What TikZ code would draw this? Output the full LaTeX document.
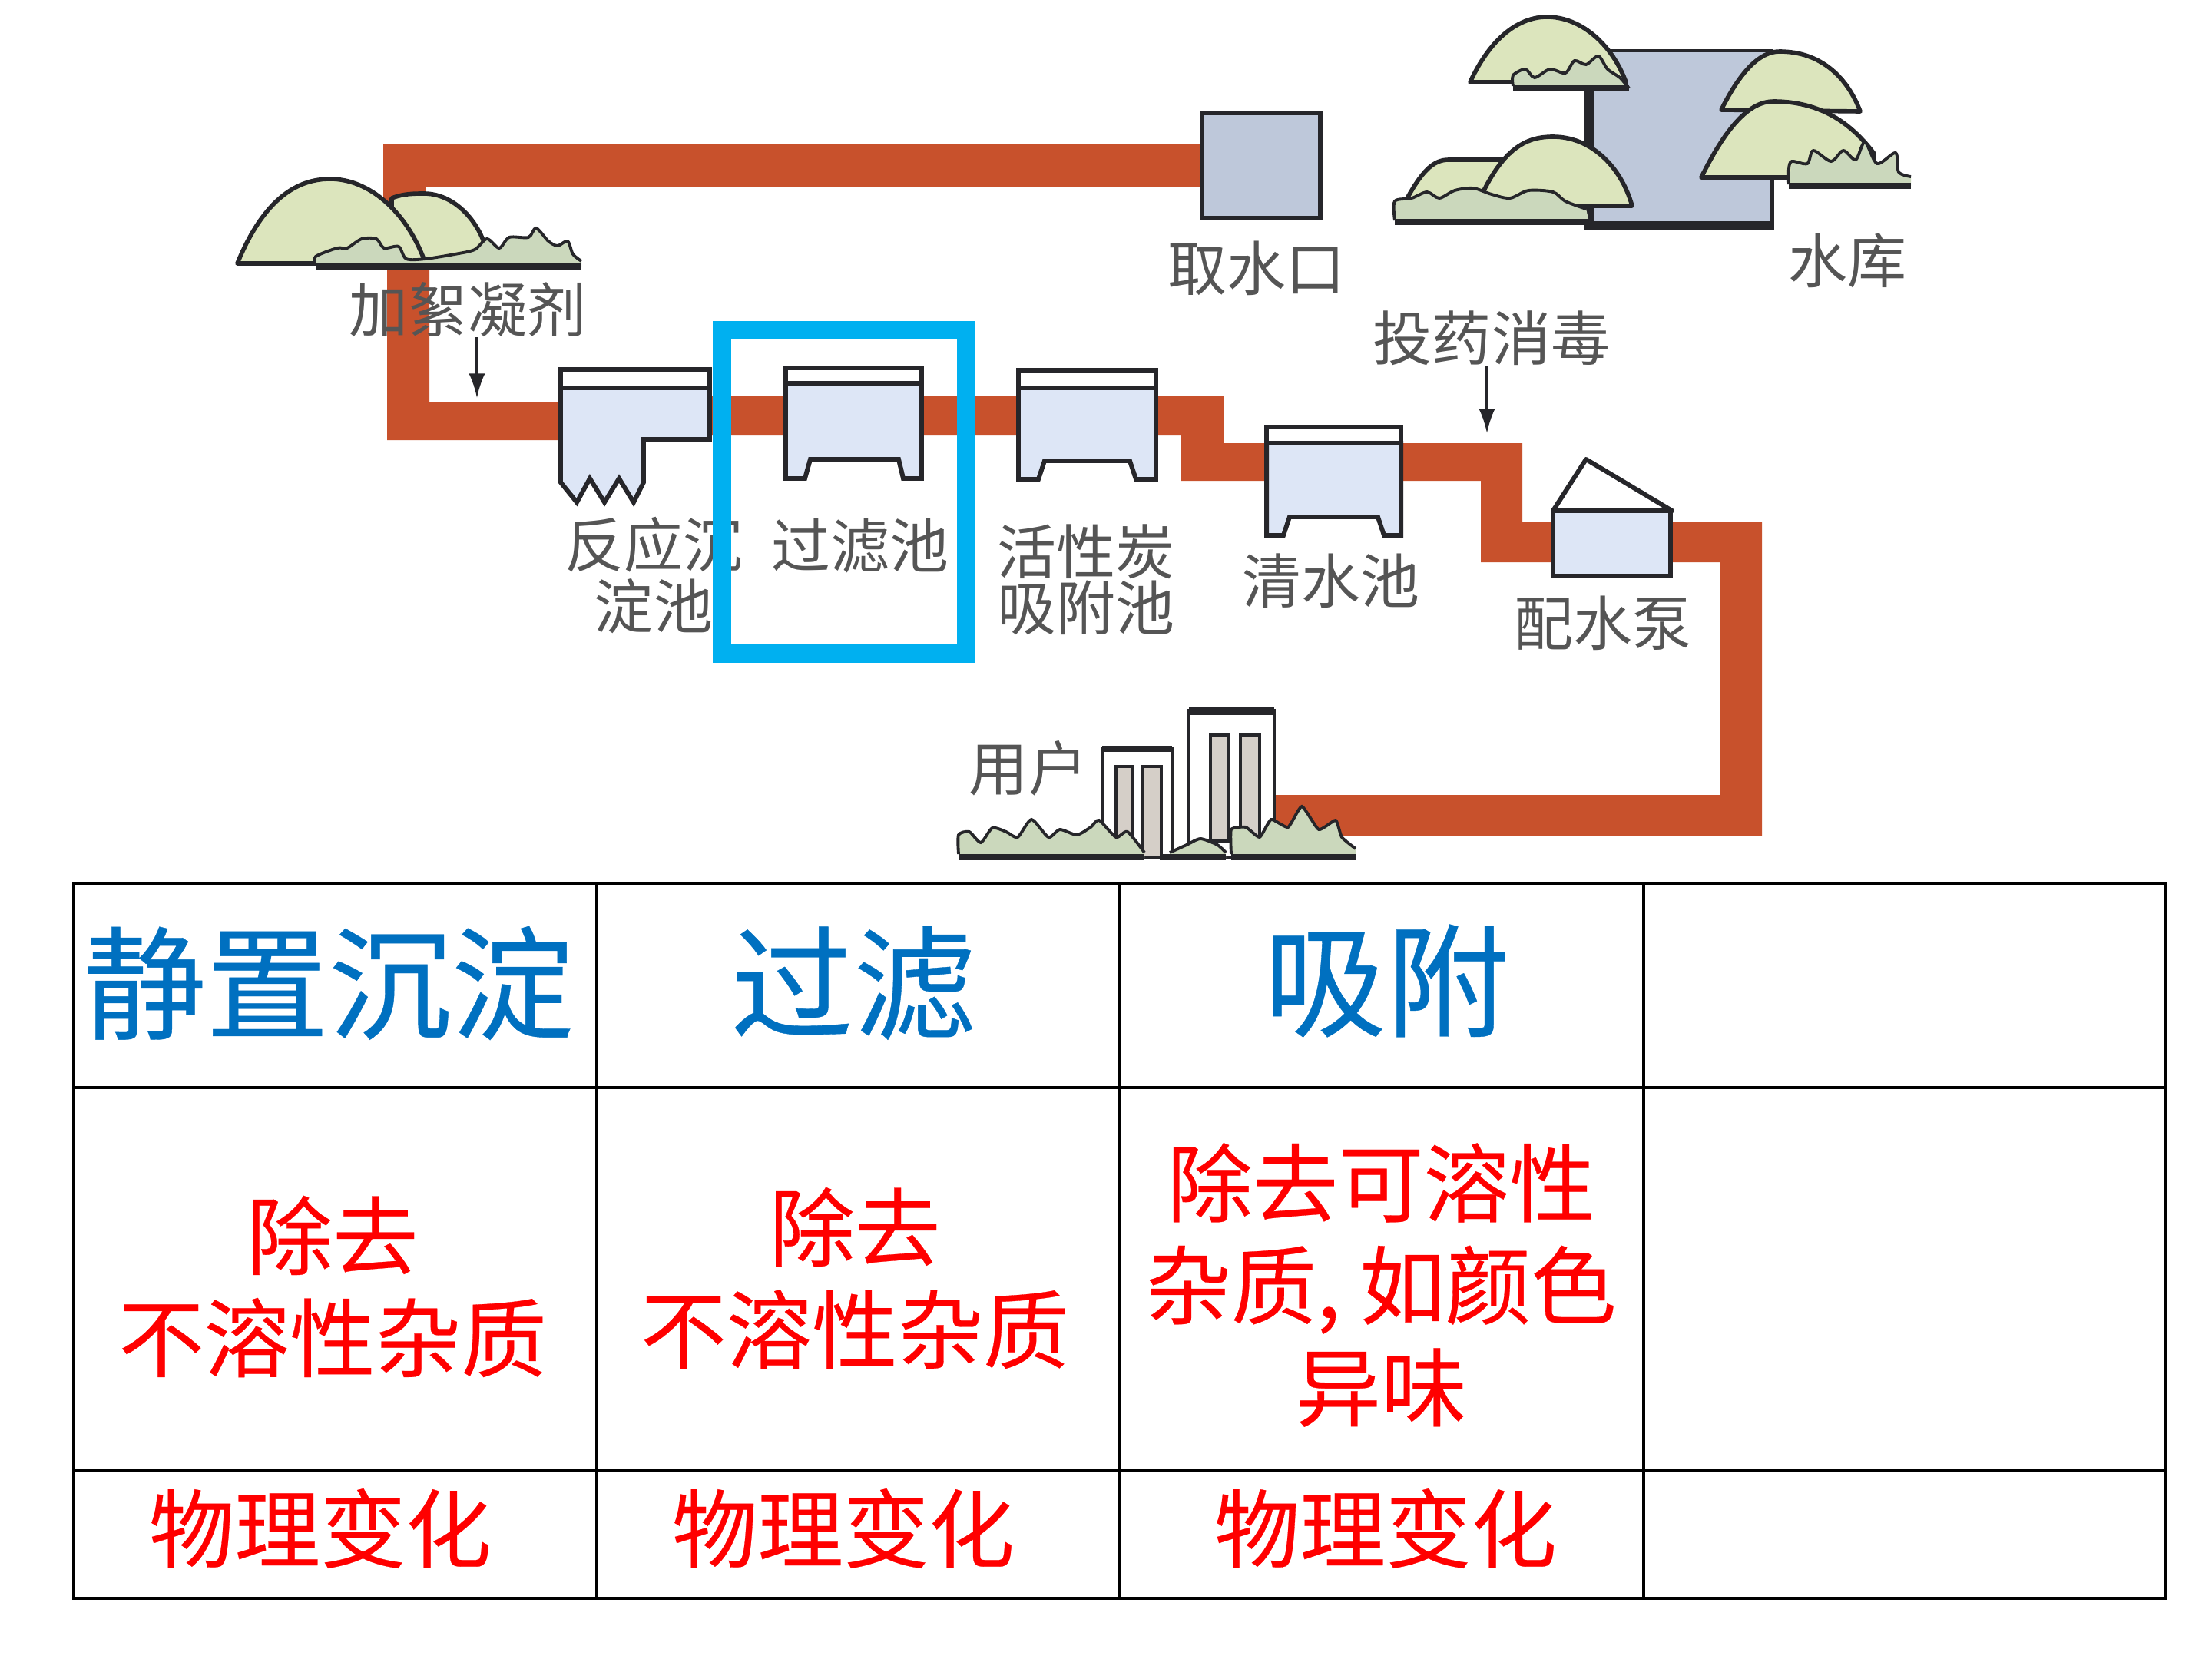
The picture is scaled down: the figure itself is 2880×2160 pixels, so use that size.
\documentclass[tikz,border=0pt]{standalone}
\usepackage{fontspec}
\setmainfont{Noto Sans CJK SC}
\newfontfamily\tablefont[FakeBold=0.25]{Noto Sans CJK SC}
\definecolor{pipecol}{HTML}{C8512C}
\definecolor{tankcol}{HTML}{DDE6F6}
\definecolor{stonecol}{HTML}{BEC8DA}
\definecolor{hillcol}{HTML}{DCE5BD}
\definecolor{bushcol}{HTML}{CBD8BC}
\definecolor{inkcol}{HTML}{26262A}
\definecolor{captioncol}{HTML}{555555}
\definecolor{headcol}{HTML}{0070C0}
\definecolor{framecol}{HTML}{00B0F0}
\definecolor{wingcol}{HTML}{D5CFC8}
\tikzset{
  pipe/.style={fill=pipecol,draw=none},
  tank/.style={fill=tankcol,draw=inkcol,line width=1.7pt,line join=miter},
  lid/.style={fill=white,draw=inkcol,line width=1.7pt},
  stone/.style={fill=stonecol,draw=inkcol,line width=1.6pt},
  hill/.style={fill=hillcol,draw=inkcol,line width=1.6pt,line join=round},
  bush/.style={fill=bushcol,draw=none},
  bushtop/.style={draw=inkcol,line width=1.1pt},
  ground/.style={draw=inkcol,line width=2.2pt},
  caption/.style={text=captioncol,inner sep=0pt,align=center,font=\fontsize{21.9}{22.5}\selectfont},
  dose/.style={draw=inkcol,line width=.9pt,-{Latex[length=9pt,width=6pt]}},
  cell/.style={draw=black,line width=1.1pt},
  headtext/.style={text=headcol,inner sep=0pt,font=\tablefont\fontsize{45.4}{50}\selectfont},
  redtext/.style={text=red,inner sep=0pt,align=center,font=\tablefont\fontsize{31.7}{37.8}\selectfont},
  tower/.style={fill=white,draw=inkcol,line width=1.2pt},
  wing/.style={fill=wingcol,draw=inkcol,line width=1.4pt},
}
\usetikzlibrary{arrows.meta}
\begin{document}
\begin{tikzpicture}[x=0.01cm,y=-0.01cm]
\useasboundingbox (0,0) rectangle (2880,2160);
\fill[white] (0,0) rectangle (2880,2160);

% water main, from the intake round to the consumers
\fill[pipe] (499,188) -- (1563,188) -- (1563,243) -- (554,243) -- (554,345) -- (559,345)
  -- (559,523) -- (800,523) -- (800,515) -- (1593,515) -- (1593,577) -- (1982,577)
  -- (1982,679) -- (2294,679) -- (2294,1088) -- (1659,1088) -- (1659,1035) -- (2240,1035)
  -- (2240,732) -- (1928,732) -- (1928,626) -- (1537,626) -- (1537,567) -- (900,567)
  -- (900,573) -- (504,573) -- (504,345) -- (499,345) -- cycle;

% intake
\draw[stone] (1565,147) rectangle (1719,284);

% reservoir
\fill[stonecol] (2072,65) rectangle (2308,297);
\draw[inkcol,line width=1.1pt] (2072,66) -- (2308,66);
\draw[inkcol,line width=1.8pt] (2307,66) -- (2307,297);
\draw[inkcol,line width=4pt] (2069,62) -- (2069,300);
\draw[inkcol,line width=3.6pt] (2065,294) -- (2310,294);

% hills around the reservoir
\draw[hill] (2241,143) .. controls (2265,95) and (2290,67) .. (2317,67) .. controls (2370,67) and (2405,100) .. (2422,145) -- cycle;
\draw[hill] (2215,231) .. controls (2250,160) and (2280,132) .. (2309,132) .. controls (2370,132) and (2410,160) .. (2440,200) -- (2440,231) -- cycle;
\fill[bush] (2329,242) -- (2333,210) -- plot[smooth,tension=.5] coordinates {(2333,210) (2353,213) (2361,196) (2384,210) (2400,196) (2416,208) (2428,185) (2444,213) (2468,199) (2472,224) (2488,230)} -- (2488,242) -- cycle;
\draw[bushtop] plot[smooth,tension=.5] coordinates {(2329,240) (2329,220) (2333,210) (2353,213) (2361,196) (2384,210) (2400,196) (2416,208) (2428,185) (2444,213) (2468,199) (2472,224) (2488,230)};
\draw[ground] (2329,242) -- (2488,242);

\draw[hill] (1914,107) .. controls (1945,40) and (1985,22) .. (2014,22) .. controls (2060,22) and (2100,60) .. (2117,107) -- cycle;
\fill[bush] (1970,115) -- plot[smooth,tension=.5] coordinates {(1970,98) (1986,90) (1998,101) (2018,90) (2038,95) (2050,79) (2065,84) (2081,73) (2093,90) (2109,101) (2121,115)} -- cycle;
\draw[bushtop] plot[smooth,tension=.5] coordinates {(1970,112) (1970,98) (1986,90) (1998,101) (2018,90) (2038,95) (2050,79) (2065,84) (2081,73) (2093,90) (2109,101) (2121,115)};
\draw[ground] (1970,115) -- (2121,115);

\draw[hill] (1830,262) .. controls (1850,225) and (1865,208) .. (1886,208) -- (1958,208) -- (1958,262) -- cycle;
\draw[hill] (1930,268) -- (1930,252) .. controls (1960,190) and (1990,178) .. (2022,178) .. controls (2070,178) and (2110,215) .. (2125,268) -- cycle;
\fill[bush] (1816,289) -- (1816,262) -- plot[smooth,tension=.5] coordinates {(1816,262) (1838,258) (1858,250) (1874,258) (1894,248) (1918,245) (1942,253) (1966,258) (1990,248) (2022,250) (2038,262) (2065,272)} -- (2069,289) -- cycle;
\draw[bushtop] plot[smooth,tension=.5] coordinates {(1816,287) (1816,262) (1838,258) (1858,250) (1874,258) (1894,248) (1918,245) (1942,253) (1966,258) (1990,248) (2022,250) (2038,262) (2065,272)};
\draw[ground] (1816,289) -- (2069,289);

% hills beside the first bend of the main
\draw[hill] (510,258) .. controls (525,252) and (540,252) .. (552,252) .. controls (590,252) and (620,285) .. (631,318) -- (631,343) -- (510,343) -- cycle;
\draw[hill] (309,343) .. controls (345,255) and (390,233) .. (430,233) .. controls (480,233) and (530,275) .. (554,343) -- cycle;
\fill[bush] (411,348) -- plot[smooth,tension=.5] coordinates {(411,334) (439,323) (452,323) (471,311) (490,311) (500,323) (519,321) (529,337) (554,337) (592,331) (618,325) (634,311) (650,323) (663,309) (688,309) (698,297) (714,314) (726,320) (739,314) (746,331) (757,340)} -- (757,348) -- cycle;
\draw[bushtop] plot[smooth,tension=.5] coordinates {(411,345) (411,334) (439,323) (452,323) (471,311) (490,311) (500,323) (519,321) (529,337) (554,337) (592,331) (618,325) (634,311) (650,323) (663,309) (688,309) (698,297) (714,314) (726,320) (739,314) (746,331) (757,340)};
\draw[ground] (411,347) -- (757,347);

% treatment tanks
\draw[tank] (730,505) -- (924,505) -- (924,572) -- (838,572) -- (838,628) -- (825,654) -- (806,623) -- (787,654) -- (768,623) -- (751,654) -- (730,628) -- cycle;
\draw[lid] (730,481) rectangle (924,505);

\draw[tank] (1023,499) -- (1200,499) -- (1200,623) -- (1176,623) -- (1170,598) -- (1055,598) -- (1048,623) -- (1023,623) -- cycle;
\draw[lid] (1023,479) rectangle (1200,499);

\draw[tank] (1326,505) -- (1505,505) -- (1505,624) -- (1479,624) -- (1471,600) -- (1360,600) -- (1352,624) -- (1326,624) -- cycle;
\draw[lid] (1326,482) rectangle (1505,505);

\draw[tank] (1649,577) -- (1824,577) -- (1824,697) -- (1802,697) -- (1794,673) -- (1679,673) -- (1671,697) -- (1649,697) -- cycle;
\draw[lid] (1649,556) rectangle (1824,577);

% pump house
\draw[tank] (2022,665) rectangle (2175,750);
\fill[white,draw=inkcol,line width=1.7pt,line join=round] (2022,665) -- (2065,598) -- (2177,665) -- cycle;

% consumers: two blocks and the planting at their feet
\draw[tower] (1435,975) -- (1526,975) -- (1526,1117) -- (1435,1117) -- cycle;
\draw[inkcol,line width=2.2pt] (1435,975) -- (1526,975);
\draw[wing] (1453,998) rectangle (1475,1117);
\draw[wing] (1488,998) rectangle (1512,1117);
\draw[tower] (1548,925) rectangle (1659,1117);
\draw[inkcol,line width=2.6pt] (1548,926) -- (1659,926);
\draw[wing] (1576,957) rectangle (1600,1095);
\draw[wing] (1615,957) rectangle (1640,1095);

\fill[bush] (1248,1117) -- plot[smooth,tension=.4] coordinates {(1248,1087) (1262,1083) (1277,1097) (1292,1078) (1310,1083) (1325,1090) (1343,1067) (1365,1090) (1380,1080) (1402,1087) (1420,1077) (1431,1068) (1453,1090) (1468,1083) (1490,1110)} -- (1490,1117) -- cycle;
\draw[bushtop] plot[smooth,tension=.4] coordinates {(1248,1112) (1248,1087) (1262,1083) (1277,1097) (1292,1078) (1310,1083) (1325,1090) (1343,1067) (1365,1090) (1380,1080) (1402,1087) (1420,1077) (1431,1068) (1453,1090) (1468,1083) (1490,1110)};
\draw[ground] (1248,1116) -- (1490,1116);

\fill[bush] (1523,1117) -- plot[smooth,tension=.4] coordinates {(1523,1110) (1545,1100) (1563,1092) (1585,1100) (1596,1110)} -- (1596,1117) -- cycle;
\draw[bushtop] plot[smooth,tension=.4] coordinates {(1523,1110) (1545,1100) (1563,1092) (1585,1100) (1596,1110)};
\draw[ground] (1510,1116) -- (1596,1116);

\fill[bush] (1603,1117) -- plot[smooth,tension=.3] coordinates {(1603,1080) (1622,1077) (1640,1090) (1655,1067) (1677,1077) (1695,1050) (1717,1080) (1739,1068) (1747,1090) (1765,1105)} -- (1765,1117) -- cycle;
\draw[bushtop] plot[smooth,tension=.3] coordinates {(1603,1112) (1603,1080) (1622,1077) (1640,1090) (1655,1067) (1677,1077) (1695,1050) (1717,1080) (1739,1068) (1747,1090) (1765,1105)};
\draw[ground] (1603,1116) -- (1765,1116);

% captions
\node[caption] (lblcoag) at (609,403) {加絮凝剂};
\node[caption] (lblsettle) at (851,749) {反应沉\\淀池};
\node[caption] (lblfilter) at (1120,710) {过滤池};
\node[caption,font=\fontsize{21.9}{20.8}\selectfont] (lblcarbon) at (1414,755) {活性炭\\吸附池};
\node[caption] (lblclear) at (1733,756) {清水池};
\node[caption] (lblpump) at (2087,811) {配水泵};
\node[caption] (lbldose) at (1942,440) {投药消毒};
\node[caption] (lbldam) at (2405,339) {水库};
\node[caption] (lblintake) at (1636,349) {取水口};
\node[caption] (lbluser) at (1339,1000) {用户};

% dosing arrows
\coordinate (coagin) at (621,518);
\coordinate (dosein) at (1936,564);
\draw[dose] (lblcoag.south -| coagin) -- (coagin);
\draw[dose] (lbldose.south -| dosein) -- (dosein);

% highlight frame round the filter
\draw[framecol,line width=6.8pt] (940,430) rectangle (1258,851);

% summary table
\draw[cell] (96,1150) rectangle (2820,2081);
\draw[cell] (96,1416) -- (2820,1416);
\draw[cell] (96,1914) -- (2820,1914);
\draw[cell] (777,1150) -- (777,2081);
\draw[cell] (1458,1150) -- (1458,2081);
\draw[cell] (2140,1150) -- (2140,2081);

\node[headtext] (hdsettle) at (428,1280) {静置沉淀};
\node[headtext] (hdfilter) at (1111,1280) {过滤};
\node[headtext] (hdadsorb) at (1805,1277) {吸附};

\node[redtext] (usesettle) at (433,1675) {除去\\不溶性杂质};
\node[redtext] (usefilter) at (1113,1664) {除去\\不溶性杂质};
\node[redtext] (useadsorb) at (1798,1673) {除去可溶性\\杂质, 如颜色\\异味};

\node[redtext] (kindsettle) at (417,1990) {物理变化};
\node[redtext] (kindfilter) at (1098,1990) {物理变化};
\node[redtext] (kindadsorb) at (1804,1990) {物理变化};
\end{tikzpicture}
\end{document}
